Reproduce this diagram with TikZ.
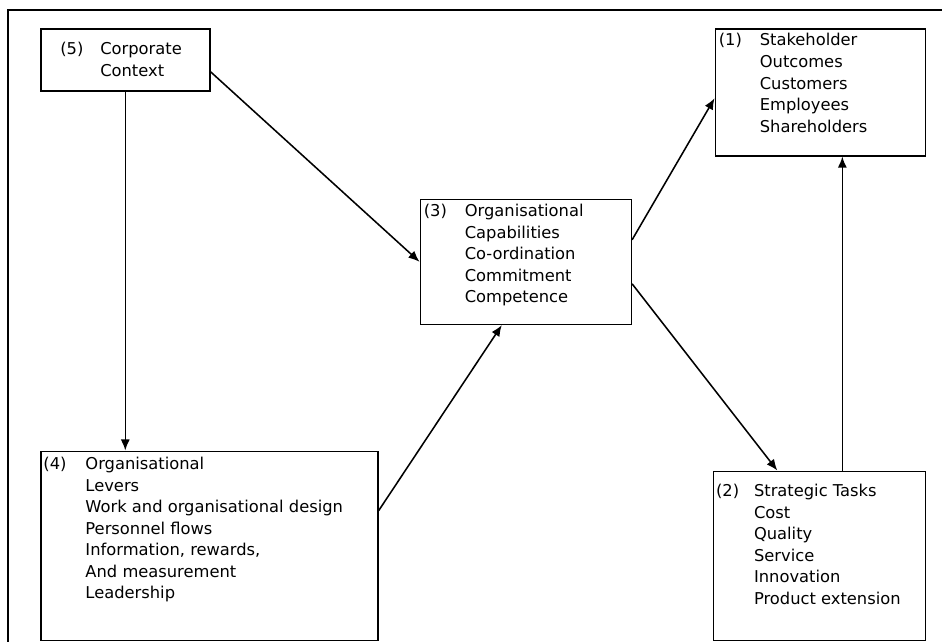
\documentclass[tikz,border=0pt]{standalone}
\usepackage{fontspec}
\setmainfont{DejaVu Sans}
\usetikzlibrary{arrows.meta}

\begin{document}
\begin{tikzpicture}[
	box/.style={draw,line width=1.1pt,inner sep=0pt,anchor=north west},
	txt/.style={anchor=base west,inner sep=0pt,font=\fontsize{11.6}{15.3}\selectfont},
	link/.style={-{Latex[length=2.8mm,width=2.3mm]},line width=1.1pt}]
	\useasboundingbox (0,0) rectangle (23.55,16.05);
	\draw [line width=1.4pt] (0.2,0) -- (0.2,15.8) -- (23.55,15.8);
	\node [box,minimum width=4.225cm,minimum height=1.55cm] (node5) at (1,15.35) {};
	\node [box,minimum width=5.25cm,minimum height=3.175cm] (node1) at ([xshift=12.6cm]node5.north east) {};
	\node [box,minimum width=5.275cm,minimum height=3.125cm] (node3) at ([xshift=5.225cm,yshift=-2.675cm]node5.south east) {};
	\node [box,minimum width=8.425cm,minimum height=4.725cm] (node4) at ([yshift=-8.975cm]node5.south west) {};
	\node [box,minimum width=5.3cm,minimum height=4.225cm] (node2) at ([xshift=-0.05cm,yshift=-7.85cm]node1.south west) {};
	\node [txt] (txt5) at ([xshift=0.5cm,yshift=-0.675cm]node5.north west) {\begin{tabular}[t]{@{}p{1cm}@{}l@{}}
		(5) & Corporate\\ & Context\end{tabular}};
	\node [txt] (txt1) at ([xshift=0.1cm,yshift=-0.45cm]node1.north west) {\begin{tabular}[t]{@{}p{1.025cm}@{}l@{}}
		(1) & Stakeholder\\ & Outcomes\\ & Customers\\ & Employees\\ & Shareholders\end{tabular}};
	\node [txt] (txt3) at ([xshift=0.1cm,yshift=-0.45cm]node3.north west) {\begin{tabular}[t]{@{}p{1.025cm}@{}l@{}}
		(3) & Organisational\\ & Capabilities\\ & Co-ordination\\ & Commitment\\ & Competence\end{tabular}};
	\node [txt] (txt4) at ([xshift=0.08cm,yshift=-0.475cm]node4.north west) {\begin{tabular}[t]{@{}p{1.05cm}@{}l@{}}
		(4) & Organisational\\ & Levers\\ & Work and organisational design\\ & Personnel flows\\ & Information, rewards,\\ & And measurement\\ & Leadership\end{tabular}};
	\node [txt] (txt2) at ([xshift=0.08cm,yshift=-0.65cm]node2.north west) {\begin{tabular}[t]{@{}p{0.95cm}@{}l@{}}
		(2) & Strategic Tasks\\ & Cost\\ & Quality\\ & Service\\ & Innovation\\ & Product extension\end{tabular}};
	\draw [link] (node5.south) -- (node5.south |- node4.north);
	\draw [link] ([yshift=-0.3cm]node5.east) -- (node3.west);
	\draw [link] ([yshift=0.875cm]node4.east) -- ([xshift=-0.6cm]node3.south);
	\draw [link] ([yshift=0.55cm]node3.east) -- ([yshift=-0.15cm]node1.west);
	\draw [link] ([yshift=-0.55cm]node3.east) -- ([xshift=-1.05cm]node2.north);
	\draw [link] ([xshift=0.575cm]node2.north) -- ([xshift=0.575cm]node2.north |- node1.south);
\end{tikzpicture}
\end{document}
